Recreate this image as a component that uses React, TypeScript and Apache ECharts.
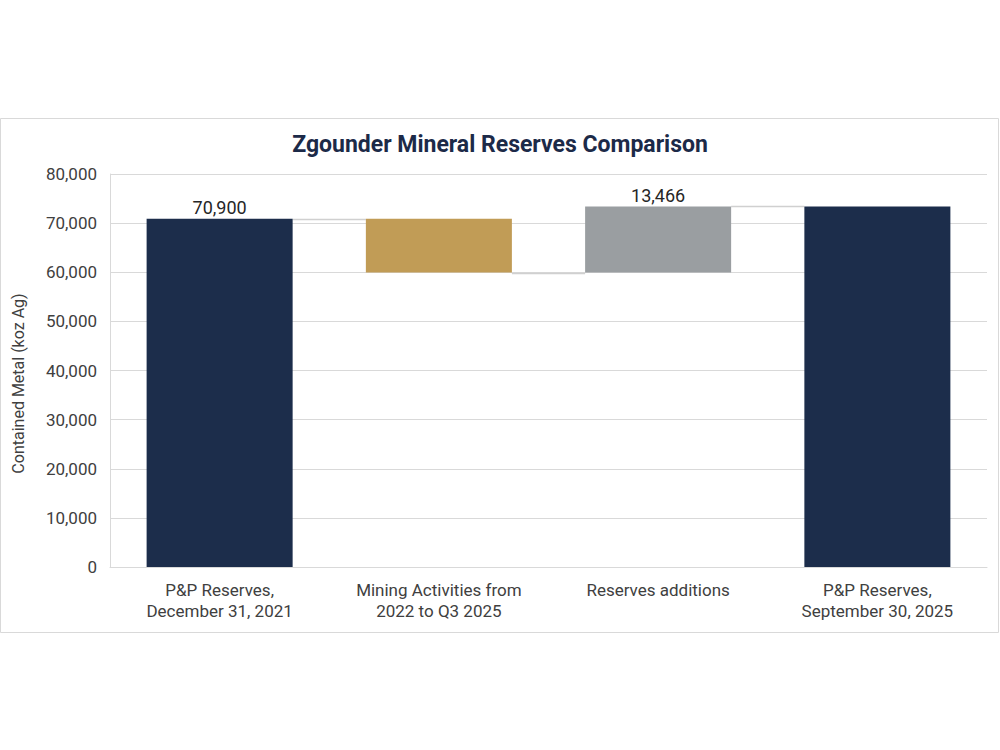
import React, { useEffect, useRef } from "react";
import * as echarts from "echarts";

const categories = [
  "P&P Reserves,\nDecember 31, 2021",
  "Mining Activities from\n2022 to Q3 2025",
  "Reserves additions",
  "P&P Reserves,\nSeptember 30, 2025",
];
const startValue = 70900;
const miningChange = -10966;
const additions = 13466;
const endValue = 73400;
const yTicks = [0, 10000, 20000, 30000, 40000, 50000, 60000, 70000, 80000];
const colors = ["#1c2d4b", "#c19c56", "#9a9ea1", "#1c2d4b"];
const labelShown = [true, false, true, false];

const afterMining = startValue + miningChange;
const baseValues = [0, afterMining, afterMining, 0];
const barValues = [startValue, -miningChange, additions, endValue];
const displayValues = [startValue, miningChange, additions, endValue];
const connectorLevels = [startValue, afterMining, afterMining + additions];

const fmt = (v: number) => Math.abs(v).toLocaleString("en-US");

export default function App() {
  const ref = useRef<HTMLDivElement>(null);
  useEffect(() => {
    if (!ref.current) return;
    const chart = echarts.init(ref.current, null, { renderer: "svg" });
    const barGapRatio = 0.666;
    chart.setOption({
      animation: false,
      backgroundColor: "#ffffff",
      textStyle: { fontFamily: "Roboto" },
      title: {
        text: "Zgounder Mineral Reserves Comparison",
        left: "center",
        top: 128,
        textStyle: { fontFamily: "Roboto", fontSize: 23, fontWeight: "bold", color: "#1c2a48" },
      },
      graphic: [
        {
          type: "rect",
          shape: { x: 0.5, y: 118.5, width: 998, height: 514 },
          style: { fill: "none", stroke: "#d9d9d9", lineWidth: 1 },
          silent: true,
          z: -1,
        },
      ],
      grid: { left: 110, right: 13, top: 174, bottom: 183 },
      xAxis: {
        type: "category",
        data: categories,
        axisTick: { show: false },
        axisLine: { lineStyle: { color: "#d9d9d9" } },
        axisLabel: { color: "#404040", fontSize: 17, lineHeight: 21, margin: 12, interval: 0 },
      },
      yAxis: {
        type: "value",
        min: 0,
        max: 80000,
        interval: 10000,
        name: "Contained Metal (koz Ag)",
        nameLocation: "middle",
        nameGap: 84,
        nameRotate: 90,
        nameTextStyle: { color: "#404040", fontSize: 16, fontFamily: "Roboto", padding: [0, 26, 0, 0] },
        axisLine: { show: true, lineStyle: { color: "#d9d9d9" } },
        axisTick: { show: false },
        splitLine: { lineStyle: { color: "#d9d9d9" } },
        axisLabel: {
          color: "#404040",
          fontSize: 17,
          margin: 13,
          formatter: (v: number) => (yTicks.includes(v) ? v.toLocaleString("en-US") : ""),
        },
      },
      series: [
        {
          type: "bar",
          stack: "wf",
          data: baseValues,
          itemStyle: { color: "transparent" },
          silent: true,
          barCategoryGap: "33.4%",
        },
        {
          type: "bar",
          stack: "wf",
          barCategoryGap: "33.4%",
          data: barValues.map((v, i) => ({
            value: v,
            itemStyle: { color: colors[i] },
            label: {
              show: labelShown[i],
              position: "top",
              distance: 2,
              formatter: () => fmt(displayValues[i]),
              color: "#262626",
              fontSize: 18,
              fontFamily: "Roboto",
            },
          })),
        },
        {
          type: "custom",
          silent: true,
          z: 1,
          data: connectorLevels.map((v, i) => [i, v]),
          renderItem: (params: any, api: any) => {
            const idx = api.value(0);
            const lvl = api.value(1);
            const p = api.coord([idx, lvl]);
            const catW = api.size([1, 0])[0];
            const bw = catW * barGapRatio;
            const y = Math.round(p[1]) + 0.5;
            return {
              type: "line",
              shape: { x1: p[0] + bw / 2, y1: y, x2: p[0] + catW - bw / 2, y2: y },
              style: { stroke: "#d0d0d0", lineWidth: 1.3 },
            };
          },
        },
      ],
    });
    return () => chart.dispose();
  }, []);
  return (
    <div
      ref={ref}
      style={{ position: "fixed", left: 0, top: 0, width: 1000, height: 750, background: "#fff" }}
    />
  );
}
